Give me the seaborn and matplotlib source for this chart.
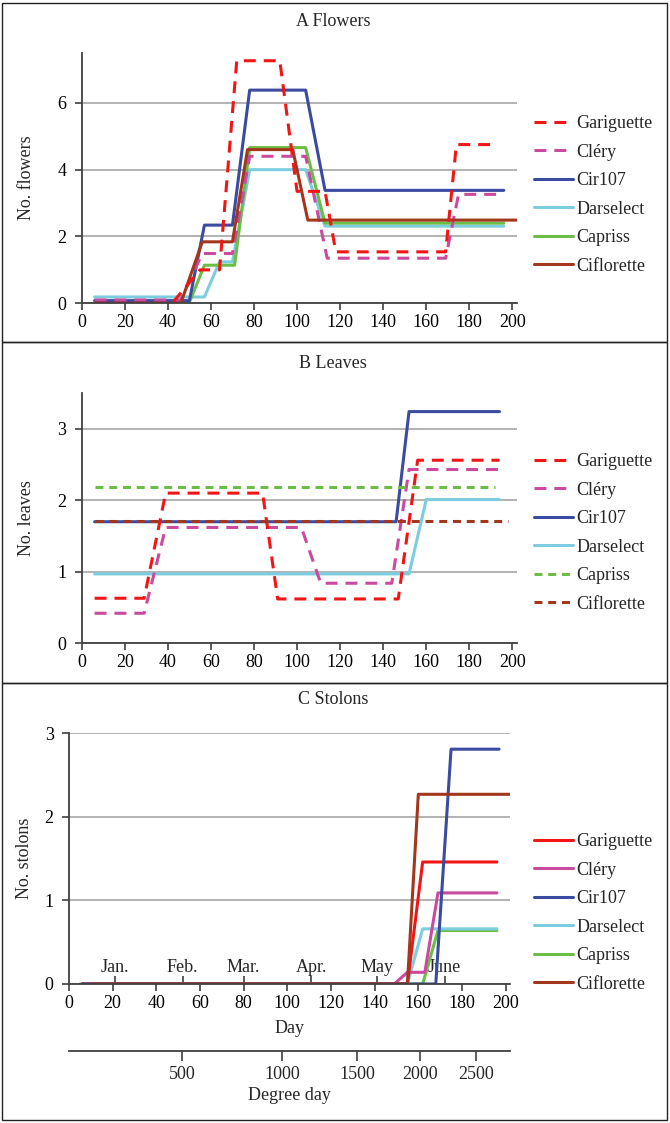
import matplotlib
matplotlib.use("Agg")
import matplotlib.pyplot as plt
import seaborn as sns
from matplotlib.patches import Rectangle

sns.set_theme(style="ticks")
plt.rcParams["font.family"] = ["Liberation Serif", "DejaVu Serif"]
FS = 13
plt.rcParams["font.size"] = FS

# ---------------- data ----------------
cultivars = ["Gariguette", "Cléry", "Cir107", "Darselect", "Capriss", "Ciflorette"]
colors = ["#F21515", "#C94A9E", "#3A4BA0", "#7CCDE0", "#6CBD45", "#A3371E"]

# Panel A: flowers
fl_gar_day = [6, 42, 55, 64, 72, 92, 100, 113, 118, 169, 174, 193]
fl_gar_val = [0, 0, 1.0, 1.0, 7.26, 7.26, 3.35, 3.35, 1.54, 1.54, 4.75, 4.75]
fl_cle_day = [6, 46, 56, 70, 78, 104, 114, 169, 175, 196]
fl_cle_val = [0.1, 0.1, 1.49, 1.49, 4.4, 4.4, 1.35, 1.35, 3.26, 3.26]
fl_cir_day = [6, 50, 57, 70, 78, 104, 113, 196]
fl_cir_val = [0.08, 0.08, 2.34, 2.34, 6.38, 6.38, 3.38, 3.38]
fl_dar_day = [6, 57, 64, 70, 78, 104, 113, 196]
fl_dar_val = [0.19, 0.19, 1.24, 1.24, 4.0, 4.0, 2.31, 2.31]
fl_cap_day = [6, 50, 57, 71, 78, 104, 113, 196]
fl_cap_val = [0.03, 0.03, 1.14, 1.14, 4.66, 4.66, 2.4, 2.4]
fl_cif_day = [6, 46, 56, 70, 77, 98, 105, 202]
fl_cif_val = [0.0, 0.0, 1.84, 1.84, 4.6, 4.6, 2.49, 2.49]

# Panel B: leaves
lv_gar_day = [6, 29, 39, 84, 91, 147, 156, 194]
lv_gar_val = [0.63, 0.63, 2.10, 2.10, 0.62, 0.62, 2.56, 2.56]
lv_cle_day = [6, 29, 39, 102, 111, 144, 152, 194]
lv_cle_val = [0.42, 0.42, 1.62, 1.62, 0.84, 0.84, 2.43, 2.43]
lv_cir_day = [6, 146, 152, 194]
lv_cir_val = [1.70, 1.70, 3.24, 3.24]
lv_dar_day = [6, 152, 160, 194]
lv_dar_val = [0.97, 0.97, 2.01, 2.01]
lv_cap_day = [6, 192]
lv_cap_val = [2.19, 2.19]
lv_cif_day = [6, 198]
lv_cif_val = [1.71, 1.71]

# Panel C: stolons
st_gar_day = [6, 155, 162, 196]
st_gar_val = [0, 0, 1.46, 1.46]
st_cle_day = [6, 149, 155, 163, 169, 196]
st_cle_val = [0, 0, 0.14, 0.14, 1.09, 1.09]
st_cir_day = [6, 168, 175, 197]
st_cir_val = [0, 0, 2.81, 2.81]
st_dar_day = [6, 155, 162, 196]
st_dar_val = [0, 0, 0.66, 0.66]
st_cap_day = [5, 162, 169, 196]
st_cap_val = [0, 0, 0.64, 0.64]
st_cif_day = [11, 155, 160, 202]
st_cif_val = [0, 0, 2.27, 2.27]

month_labels = ["Jan.", "Feb.", "Mar.", "Apr.", "May", "June"]
month_days = [21, 52, 80, 111, 141, 172]
dd_labels = ["500", "1000", "1500", "2000", "2500"]
dd_days = [51.9, 97.7, 131.9, 161.0, 186.6]

panel_titles = ["A Flowers", "B Leaves", "C Stolons"]
ylabels = ["No. flowers", "No. leaves", "No. stolons"]
yticks = [[0, 2, 4, 6], [0, 1, 2, 3], [0, 1, 2, 3]]
ylims = [7.5, 3.5, 3.0]
xticks = list(range(0, 201, 20))

# ---------------- figure ----------------
W, H = 670, 1123
fig = plt.figure(figsize=(W / 100, H / 100), dpi=100)


def fx(px):
    return px / W


def fy(py):
    return 1 - py / H


axA = fig.add_axes([fx(81.7), fy(303.3), fx(516.7) - fx(81.7), (303.3 - 52.7) / H])
axB = fig.add_axes([fx(81.7), fy(643.3), fx(516.7) - fx(81.7), (643.3 - 393.0) / H])
axC = fig.add_axes([fx(69.0), fy(984.0), fx(510.0) - fx(69.0), (984.0 - 733.3) / H])
axes = [axA, axB, axC]

LW = 2.2
dash_long = (0, (3.9, 2.6))
dash_short = (0, (2.6, 1.9))

panelA = [(fl_gar_day, fl_gar_val), (fl_cle_day, fl_cle_val), (fl_cir_day, fl_cir_val),
          (fl_dar_day, fl_dar_val), (fl_cap_day, fl_cap_val), (fl_cif_day, fl_cif_val)]
panelB = [(lv_gar_day, lv_gar_val), (lv_cle_day, lv_cle_val), (lv_cir_day, lv_cir_val),
          (lv_dar_day, lv_dar_val), (lv_cap_day, lv_cap_val), (lv_cif_day, lv_cif_val)]
panelC = [(st_gar_day, st_gar_val), (st_cle_day, st_cle_val), (st_cir_day, st_cir_val),
          (st_dar_day, st_dar_val), (st_cap_day, st_cap_val), (st_cif_day, st_cif_val)]

stylesA = [dash_long, dash_long, "-", "-", "-", "-"]
stylesB = [dash_long, dash_long, "-", "-", dash_short, dash_short]
stylesC = ["-"] * 6
orderA = [3, 4, 2, 1, 5, 0]
orderB = [3, 2, 1, 0, 4, 5]
orderC = [4, 3, 1, 0, 2, 5]

legend_tops = [115, 453, 833]

for i, (ax, pdata, styles, order) in enumerate(zip(
        axes, [panelA, panelB, panelC], [stylesA, stylesB, stylesC], [orderA, orderB, orderC])):
    handles = {}
    for k in order:
        d, v = pdata[k]
        sns.lineplot(x=d, y=v, ax=ax, color=colors[k], linewidth=LW,
                     linestyle=styles[k], estimator=None, sort=False,
                     label=cultivars[k])
        handles[k] = ax.get_lines()[-1]
    ax.set_xlim(0, 202)
    ax.set_ylim(0, ylims[i])
    ax.set_yticks(yticks[i])
    ax.set_xticks(xticks)
    ax.yaxis.grid(True, color="#A6A6A6", linewidth=1.2)
    ax.set_axisbelow(True)
    for s in ["top", "right"]:
        ax.spines[s].set_visible(False)
    for s in ["left", "bottom"]:
        ax.spines[s].set_color("#404040")
        ax.spines[s].set_linewidth(1.3)
    ax.tick_params(axis="both", direction="out", length=5, width=1.2, color="#404040",
                   labelsize=FS, labelcolor="black")
    ax.tick_params(axis="y", pad=6)
    ax.tick_params(axis="x", pad=3)
    ax.set_ylabel(ylabels[i], fontsize=FS)
    ax.set_xlabel("")
    hs = [handles[k] for k in range(6)]
    ax.legend(hs, cultivars, loc="upper left", bbox_to_anchor=(fx(534), fy(legend_tops[i])),
              bbox_transform=fig.transFigure, frameon=False, borderpad=0, borderaxespad=0,
              handlelength=2.15, handletextpad=0.2, labelspacing=0.64, fontsize=FS)
    fig.text(0.497, fy([22, 363, 700][i]), panel_titles[i], ha="center", va="center", fontsize=FS)

axA.yaxis.set_label_coords((35 - 81.7) / 435.0, 0.5)
axB.yaxis.set_label_coords((35 - 81.7) / 435.0, 0.5)
axC.yaxis.set_label_coords((33 - 69.0) / 441.0, 0.5)

# Day label
axC.set_xlabel("Day", fontsize=FS, labelpad=6)

# Month markers
mon = axC.secondary_xaxis("bottom")
mon.set_xticks(month_days, month_labels)
mon.tick_params(direction="in", length=6, width=1.2, color="#404040", pad=-18, labelsize=FS)
mon.spines["bottom"].set_visible(False)

# Degree-day axis
deg = axC.secondary_xaxis(-(1051 - 984) / 250.7)
deg.set_xticks(dd_days, dd_labels)
deg.tick_params(direction="out", length=7, width=1.2, color="#404040", pad=4, labelsize=FS)
deg.spines["bottom"].set_color("#404040")
deg.spines["bottom"].set_linewidth(1.3)
deg.set_xlabel("Degree day", fontsize=FS, labelpad=3)

# Panel boxes
for top, bot in [(3, 342), (342, 683), (683, 1120)]:
    fig.add_artist(Rectangle((fx(2), fy(bot)), fx(667) - fx(2), (bot - top) / H,
                             transform=fig.transFigure, fill=False, edgecolor="#222222",
                             linewidth=1.0))

fig.savefig("out.png", dpi=100)
